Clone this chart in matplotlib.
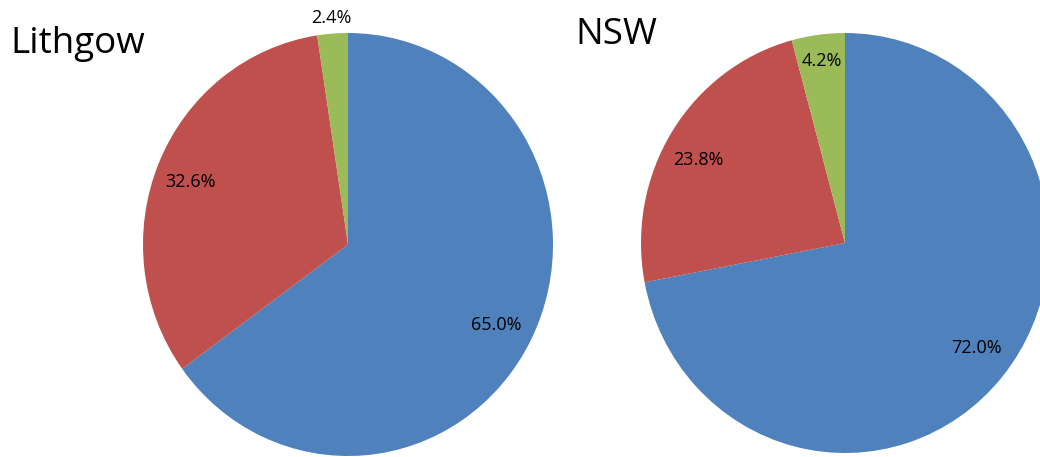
import numpy as np
import matplotlib
matplotlib.use("Agg")
import matplotlib.pyplot as plt

plt.rcParams['font.family'] = ['Open Sans', 'DejaVu Sans']

titles = ["Lithgow", "NSW"]
lithgow_values = [65.0, 32.6, 2.4]
nsw_values = [72.0, 23.8, 4.2]
colors = ["#4F81BD", "#C0504D", "#9BBB59"]

W, H = 1040, 457
fig = plt.figure(figsize=(W / 100, H / 100), dpi=100)

# pixel boxes: (left, top, right, bottom)
boxes = [(143, 33, 553, 456), (641, 33, 1049, 453)]
label_dist = [[0.817, 0.821, 1.076], [0.814, 0.82, 0.872]]
label_angle_off = [[-0.9, 1.6, 0.0], [1.7, 3.2, 0.0]]
title_pos = [(10, 53), (575, 44)]

for vals, title, box, dists, offs, tp in zip([lithgow_values, nsw_values], titles, boxes,
                                            label_dist, label_angle_off, title_pos):
    l, t, r, b = box
    ax = fig.add_axes([l / W, (H - b) / H, (r - l) / W, (b - t) / H])
    wedges, texts, autotexts = ax.pie(vals, colors=colors, startangle=90, counterclock=False,
                                      autopct='%.1f%%', pctdistance=0.82,
                                      wedgeprops=dict(linewidth=0),
                                      textprops=dict(fontsize=13, color='black'))
    ax.set_aspect('auto')
    ax.set_xlim(-1, 1)
    ax.set_ylim(-1, 1)
    ax.axis('off')
    for w, at, d, o in zip(wedges, autotexts, dists, offs):
        th = np.deg2rad((w.theta1 + w.theta2) / 2 + o)
        at.set_position((d * np.cos(th), d * np.sin(th)))
    fig.text(tp[0] / W, (H - tp[1]) / H, title, fontsize=26.5, ha='left', va='baseline')

fig.savefig("out.png", dpi=100)
